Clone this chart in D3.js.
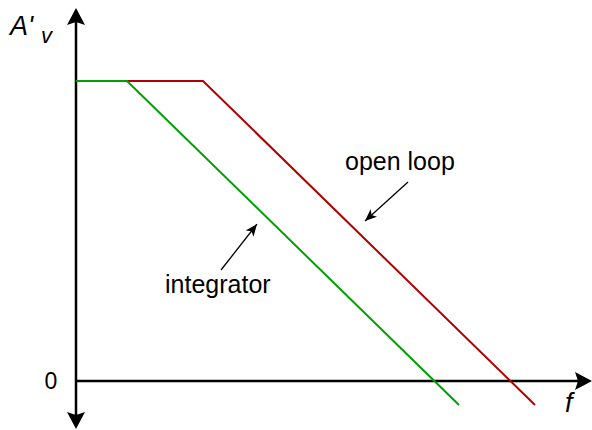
<!DOCTYPE html>
<html>
<head>
<meta charset="utf-8">
<script src="https://cdn.jsdelivr.net/npm/d3@7"></script>
<style>
  body { margin: 0; background: #fff; }
  svg { display: block; font-family: Arial, "Liberation Sans", sans-serif; }
</style>
</head>
<body>
<svg width="592" height="430"></svg>
<script>
// conceptual Bode plot, arbitrary units
const openLoopF = [0, 25.4, 91.8];
const openLoopA = [100, 100, -8];
const integratorF = [0, 10.2, 76.6];
const integratorA = [100, 100, -8];
const yTicks = [0];
const xAxisEnd = 103.2;
const yAxisEnds = [-16, 124.3];

const svg = d3.select("svg");

const x = d3.scaleLinear().domain([0, 100]).range([76, 576]);
const y = d3.scaleLinear().domain([0, 100]).range([381, 81]);

const line = d3.line()
    .x(d => x(d[0]))
    .y(d => y(d[1]));

// axes
svg.append("line")
    .attr("x1", x(0)).attr("x2", x(xAxisEnd) - 10)
    .attr("y1", y(0)).attr("y2", y(0))
    .attr("stroke", "#000").attr("stroke-width", 2.5);

svg.append("line")
    .attr("x1", x(0)).attr("x2", x(0))
    .attr("y1", y(yAxisEnds[0]) - 10).attr("y2", y(yAxisEnds[1]) + 10)
    .attr("stroke", "#000").attr("stroke-width", 2.5);

const head = "M0,0 L-9,17 L0,14 L9,17 Z";

svg.append("path")
    .attr("d", head)
    .attr("transform", `translate(${x(0)},${y(yAxisEnds[1])})`);

svg.append("path")
    .attr("d", head)
    .attr("transform", `translate(${x(0)},${y(yAxisEnds[0])}) rotate(180)`);

svg.append("path")
    .attr("d", head)
    .attr("transform", `translate(${x(xAxisEnd)},${y(0)}) rotate(90)`);

// curves
svg.append("path")
    .datum(openLoopF.map((f, i) => [f, openLoopA[i]]))
    .attr("d", line)
    .attr("fill", "none")
    .attr("stroke", "#b00000")
    .attr("stroke-width", 2);

svg.append("path")
    .datum(integratorF.map((f, i) => [f, integratorA[i]]))
    .attr("d", line)
    .attr("fill", "none")
    .attr("stroke", "#00a000")
    .attr("stroke-width", 2);

// labels
svg.selectAll(".ytick")
    .data(yTicks)
    .enter()
    .append("text")
    .attr("class", "ytick")
    .attr("x", 51)
    .attr("y", d => y(d) + 8)
    .attr("text-anchor", "middle")
    .attr("font-size", "23px")
    .text(d => d);

svg.append("text")
    .attr("x", 565)
    .attr("y", 412)
    .attr("font-size", "27px")
    .attr("font-style", "italic")
    .text("f");

svg.append("text")
    .attr("x", 10)
    .attr("y", 35)
    .attr("font-size", "27px")
    .attr("font-style", "italic")
    .text("A'");

svg.append("text")
    .attr("x", 41)
    .attr("y", 43)
    .attr("font-size", "22px")
    .attr("font-style", "italic")
    .text("v");

// annotations
svg.append("defs").append("marker")
    .attr("id", "tip")
    .attr("markerUnits", "userSpaceOnUse")
    .attr("viewBox", "-12 -5 13 10")
    .attr("markerWidth", 13)
    .attr("markerHeight", 10)
    .attr("refX", 0)
    .attr("refY", 0)
    .attr("orient", "auto")
    .append("path")
    .attr("d", "M0,0 L-12,-5 L-9,0 L-12,5 Z")
    .attr("fill", "#000");

const notes = [
    { text: "open loop", tx: 53.8, ty: 70.3, from: [66.4, 66.3], to: [57.8, 53.3] },
    { text: "integrator", tx: 17.8, ty: 29.3, from: [29, 37], to: [36.2, 52.3] }
];

notes.forEach(n => {
    svg.append("text")
        .attr("x", x(n.tx))
        .attr("y", y(n.ty))
        .attr("font-size", "25px")
        .text(n.text);

    svg.append("line")
        .attr("x1", x(n.from[0])).attr("y1", y(n.from[1]))
        .attr("x2", x(n.to[0])).attr("y2", y(n.to[1]))
        .attr("stroke", "#000")
        .attr("stroke-width", 1.3)
        .attr("marker-end", "url(#tip)");
});
</script>
</body>
</html>
